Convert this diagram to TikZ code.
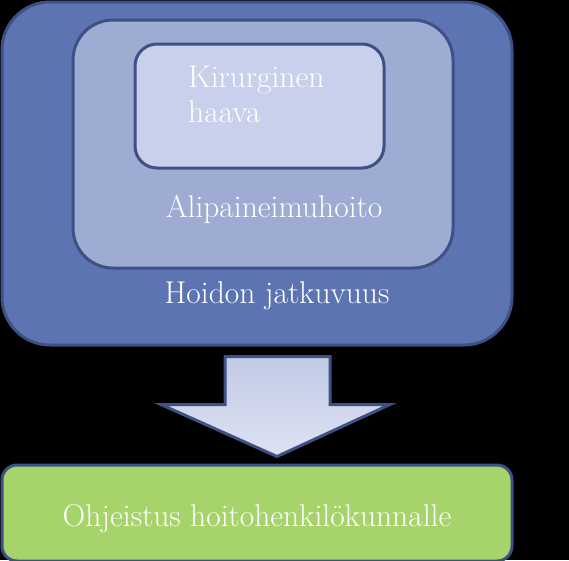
\documentclass[tikz,border=0pt]{standalone}
\usepackage{fontspec}
\usetikzlibrary{positioning,calc}
\definecolor{rim}{RGB}{62, 80, 132}
\definecolor{c1}{RGB}{92, 116, 178}
\definecolor{c2}{RGB}{158, 172, 211}
\definecolor{c3}{RGB}{200, 208, 235}
\definecolor{c4}{RGB}{166, 212, 106}
\tikzset{
	compartment/.style={
		rectangle, line width=3pt, draw=rim, text=white
	},
	%
	label text/.style={
		text=white, inner sep=0pt, font=\fontsize{31.5}{35}\selectfont
	},
	%
	bigarrow/.style={
		line width=3pt, draw=rim, line join=miter,
		top color=c3!95!rim, bottom color=c3!60!white
	}
}
\begin{document}
\begin{tikzpicture}[x=1pt, y=-1pt]
\fill[black] (0,0) rectangle (569,560);
\useasboundingbox (0,0) rectangle (569,560);
\node(hoito)[compartment, fill=c1, minimum width=510pt, minimum height=343pt, rounded corners=48pt] at (257,173.5) {};
\node(alipaine)[compartment, fill=c2, minimum width=380pt, minimum height=248pt, rounded corners=40pt] at (263,144) {};
\node(haava)[compartment, fill=c3, minimum width=249pt, minimum height=124pt, rounded corners=22pt] at (259.5,106) {};
\node(ohjeistus)[compartment, fill=c4, below=117pt of hoito, minimum width=510pt, minimum height=96pt, rounded corners=15pt] {};
\node(haavatext)[label text, anchor=base west, align=left] at (188,122) {Kirurginen\\haava};
\node(alipainetext)[label text, anchor=base] at (274,217) {Alipaineimuhoito};
\node(hoitotext)[label text, anchor=base] at (277,303) {Hoidon jatkuvuus};
\node(ohjeistustext)[label text, anchor=base] at ($(ohjeistus.south)+(0,-36)$) {Ohjeistus hoitohenkilökunnalle};
\coordinate(tip) at ($(ohjeistus.north)+(20,-7)$);
\draw[bigarrow] (tip) -- ++(-116,-52) -- ++(64,0) -- ++(0,-48) -- ++(105,0) -- ++(0,48) -- ++(60,0) -- cycle;
\end{tikzpicture}
\end{document}
